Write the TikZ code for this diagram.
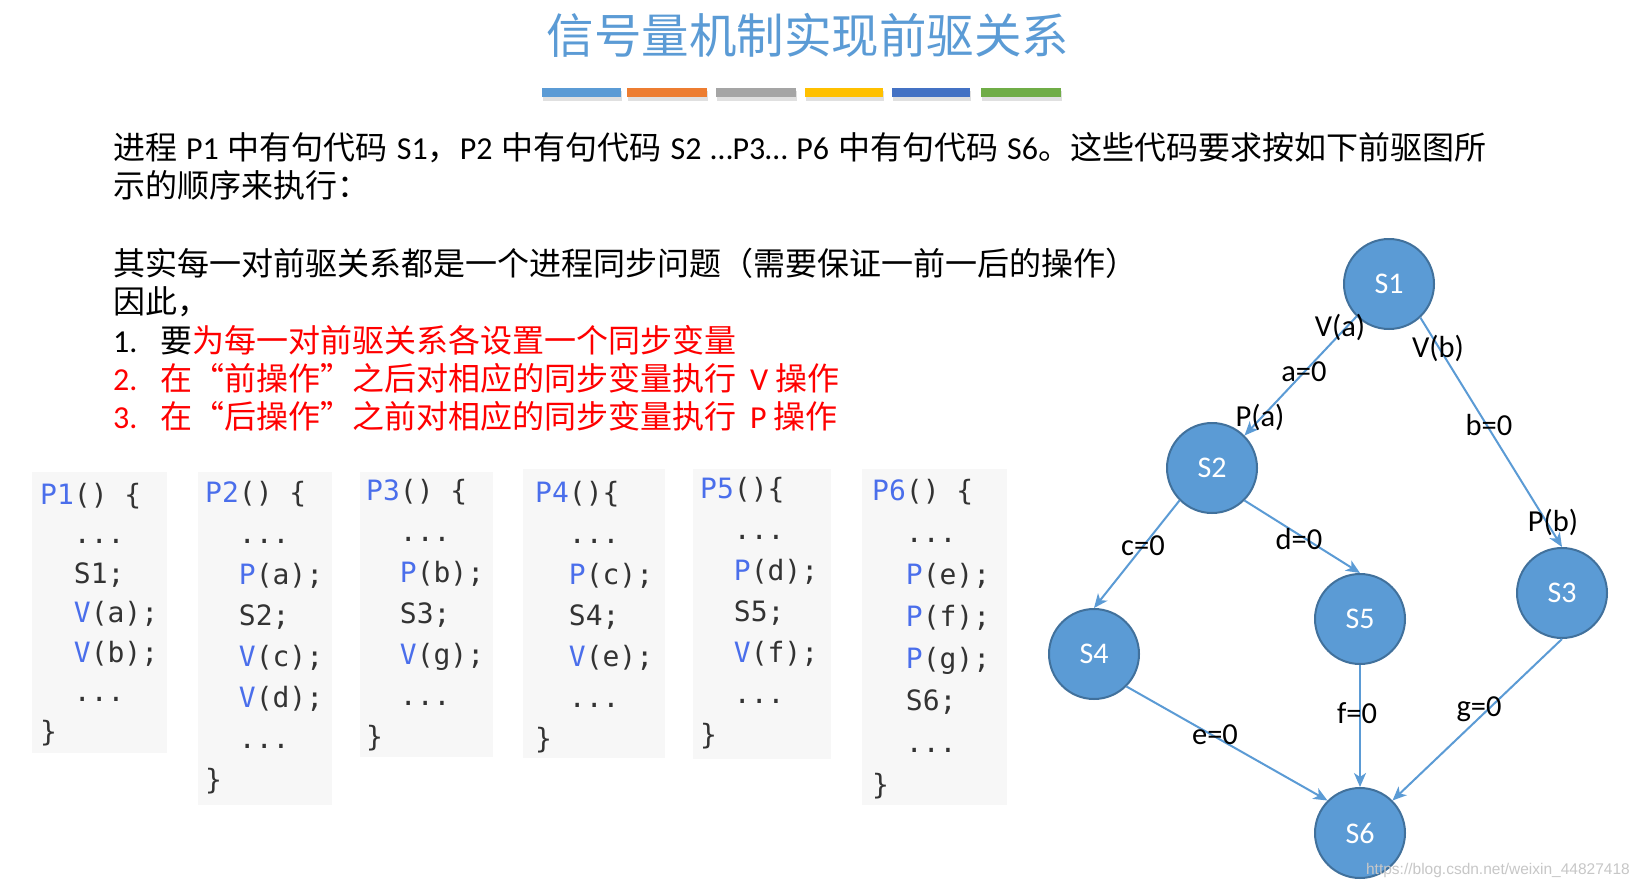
\documentclass[tikz,border=0pt]{standalone}
\usepackage{fontspec}
\setmainfont{Carlito}
\newfontfamily\cjk{Noto Sans CJK SC}
\newfontfamily\codefont{DejaVu Sans Mono}
\newfontfamily\wmfont{Liberation Sans}
\usetikzlibrary{arrows.meta}
\definecolor{nodeblue}{HTML}{5B9BD5}
\definecolor{nodeedge}{HTML}{41719C}
\definecolor{kwblue}{RGB}{74,110,235}
\definecolor{codetxt}{HTML}{333333}
\definecolor{codebg}{HTML}{F7F7F7}
\definecolor{barA}{HTML}{5B9BD5}
\definecolor{barB}{HTML}{ED7D31}
\definecolor{barC}{HTML}{A5A5A5}
\definecolor{barD}{HTML}{FFC000}
\definecolor{barE}{HTML}{4472C4}
\definecolor{barF}{HTML}{70AD47}
\newcommand\kw[1]{\textcolor{kwblue}{#1}}
\newcommand\ind{\hspace*{33.7pt}}
\newcommand\threedots{...}
\newcommand\wsp{\hspace{9pt}}
\tikzset{
  body/.style={anchor=base west, inner sep=0, font=\fontsize{32}{38}\selectfont},
  code/.style={anchor=base west, inner sep=0, font=\codefont\fontsize{28}{34}\selectfont, text=codetxt},
  state/.style={circle, minimum size=90pt, inner sep=0, fill=nodeblue, draw=nodeedge, line width=2pt, text=white, font=\fontsize{30}{36}\selectfont},
  edge/.style={draw=nodeblue, line width=2pt, -{Stealth[length=14pt,width=12pt,inset=4pt]}},
  lbl/.style={inner sep=0, font=\fontsize{30.5}{36}\selectfont},
}
\begin{document}
\begin{tikzpicture}[x=1pt,y=-1pt]
\useasboundingbox (0,0) rectangle (1639,889);
\fill[white] (0,0) rectangle (1639,889);
% title
\node[font=\cjk\fontsize{47.5}{56}\selectfont, text=nodeblue, anchor=base, inner sep=0] (title) at (808,53) {信号量机制实现前驱关系};
% colour bars with shadow
\foreach \xa/\xb/\c in {542/621/barA, 627/707/barB, 716/796/barC, 805/883/barD, 892/970/barE, 981/1061/barF}{
  \fill[black, opacity=0.12] (\xa+1,91) rectangle (\xb+1,101);
  \fill[\c] (\xa,88) rectangle (\xb,97);
}
% body text
\node[body] (l1) at (113,159) {{\cjk 进程}\wsp P1\wsp{\cjk 中有句代码}\wsp S1{\cjk ，}P2\wsp{\cjk 中有句代码}\wsp S2\wsp …P3…\wsp P6\wsp{\cjk 中有句代码}\wsp S6{\cjk 。这些代码要求按如下前驱图所}};
\node[body] (l2) at (113,197) {\cjk 示的顺序来执行：};
\node[body] (l3) at (113,275) {\cjk 其实每一对前驱关系都是一个进程同步问题（需要保证一前一后的操作）};
\node[body] (l4) at (113,313) {\cjk 因此，};
\node[body] (n1) at (113,352) {1.};
\node[body] (l5) at (160,352) {{\cjk 要}\textcolor{red}{\cjk 为每一对前驱关系各设置一个同步变量}};
\node[body, text=red] (n2) at (113,390) {2.};
\node[body, text=red] (l6) at (160,390) {{\cjk 在“前操作”之后对相应的同步变量执行}\hspace{14pt}V {\cjk 操作}};
\node[body, text=red] (n3) at (113,428) {3.};
\node[body, text=red] (l7) at (160,428) {{\cjk 在“后操作”之前对相应的同步变量执行}\hspace{14pt}P {\cjk 操作}};
% code backgrounds
\fill[codebg] (32,472) rectangle (167,753);
\fill[codebg] (198,472) rectangle (332,805);
\fill[codebg] (360,472) rectangle (493,757);
\fill[codebg] (523,469) rectangle (665,758);
\fill[codebg] (693,469) rectangle (831,759);
\fill[codebg] (862,469) rectangle (1007,805);
% code block 1
\node[code] (P1-0) at (40,504) {\kw{P1}() \{};
\node[code] (P1-1) at (40,543.5) {\ind\threedots};
\node[code] (P1-2) at (40,583) {\ind S1;};
\node[code] (P1-3) at (40,622.5) {\ind\kw{V}(a);};
\node[code] (P1-4) at (40,662) {\ind\kw{V}(b);};
\node[code] (P1-5) at (40,701.5) {\ind\threedots};
\node[code] (P1-6) at (40,741) {\}};
% code block 2
\node[code] (P2-0) at (205,502) {\kw{P2}() \{};
\node[code] (P2-1) at (205,543) {\ind\threedots};
\node[code] (P2-2) at (205,584) {\ind\kw{P}(a);};
\node[code] (P2-3) at (205,625) {\ind S2;};
\node[code] (P2-4) at (205,666) {\ind\kw{V}(c);};
\node[code] (P2-5) at (205,707) {\ind\kw{V}(d);};
\node[code] (P2-6) at (205,748) {\ind\threedots};
\node[code] (P2-7) at (205,789) {\}};
% code block 3
\node[code] (P3-0) at (366,500) {\kw{P3}() \{};
\node[code] (P3-1) at (366,541) {\ind\threedots};
\node[code] (P3-2) at (366,582) {\ind\kw{P}(b);};
\node[code] (P3-3) at (366,623) {\ind S3;};
\node[code] (P3-4) at (366,664) {\ind\kw{V}(g);};
\node[code] (P3-5) at (366,705) {\ind\threedots};
\node[code] (P3-6) at (366,746) {\}};
% code block 4
\node[code] (P4-0) at (535,502) {\kw{P4}()\{};
\node[code] (P4-1) at (535,543) {\ind\threedots};
\node[code] (P4-2) at (535,584) {\ind\kw{P}(c);};
\node[code] (P4-3) at (535,625) {\ind S4;};
\node[code] (P4-4) at (535,666) {\ind\kw{V}(e);};
\node[code] (P4-5) at (535,707) {\ind\threedots};
\node[code] (P4-6) at (535,748) {\}};
% code block 5
\node[code] (P5-0) at (700,498) {\kw{P5}()\{};
\node[code] (P5-1) at (700,539) {\ind\threedots};
\node[code] (P5-2) at (700,580) {\ind\kw{P}(d);};
\node[code] (P5-3) at (700,621) {\ind S5;};
\node[code] (P5-4) at (700,662) {\ind\kw{V}(f);};
\node[code] (P5-5) at (700,703) {\ind\threedots};
\node[code] (P5-6) at (700,744) {\}};
% code block 6
\node[code] (P6-0) at (872,500) {\kw{P6}() \{};
\node[code] (P6-1) at (872,542) {\ind\threedots};
\node[code] (P6-2) at (872,584) {\ind\kw{P}(e);};
\node[code] (P6-3) at (872,626) {\ind\kw{P}(f);};
\node[code] (P6-4) at (872,668) {\ind\kw{P}(g);};
\node[code] (P6-5) at (872,710) {\ind S6;};
\node[code] (P6-6) at (872,752) {\ind\threedots};
\node[code] (P6-7) at (872,794) {\}};
% graph
\node[state] (S1) at (1389,284) {S1};
\node[state] (S2) at (1212,468) {S2};
\node[state] (S3) at (1562,593) {S3};
\node[state] (S4) at (1094,654) {S4};
\node[state] (S5) at (1360,619) {S5};
\node[state] (S6) at (1360,833) {S6};
\draw[edge] (S1.225) -- (S2.45);
\draw[edge] (S1.-47) -- (S3.north);
\draw[edge] (S2.225) -- (S4.north);
\draw[edge] (S2.-45) -- (S5.north);
\draw[edge] (S4.-45) -- (S6.135);
\draw[edge] (S5.south) -- (S6.north);
\draw[edge] (S3.south) -- (S6.45);
\node[lbl] (la) at (1340,327) {V(a)};
\node[lbl] (lb) at (1304,372) {a=0};
\node[lbl] (lc) at (1260,417) {P(a)};
\node[lbl] (ld) at (1438,348) {V(b)};
\node[lbl] (le) at (1489,425) {b=0};
\node[lbl] (lf) at (1553,522) {P(b)};
\node[lbl] (lg) at (1143,546) {c=0};
\node[lbl] (lh) at (1299,539) {d=0};
\node[lbl] (li) at (1215,735) {e=0};
\node[lbl] (lj) at (1357,713) {f=0};
\node[lbl] (lk) at (1479,709) {g=0};
\node[font=\wmfont\fontsize{15.5}{18}\selectfont, text=black!22, inner sep=0, anchor=east] (wm) at (1630,870) {https://blog.csdn.net/weixin\_44827418};
\end{tikzpicture}
\end{document}
